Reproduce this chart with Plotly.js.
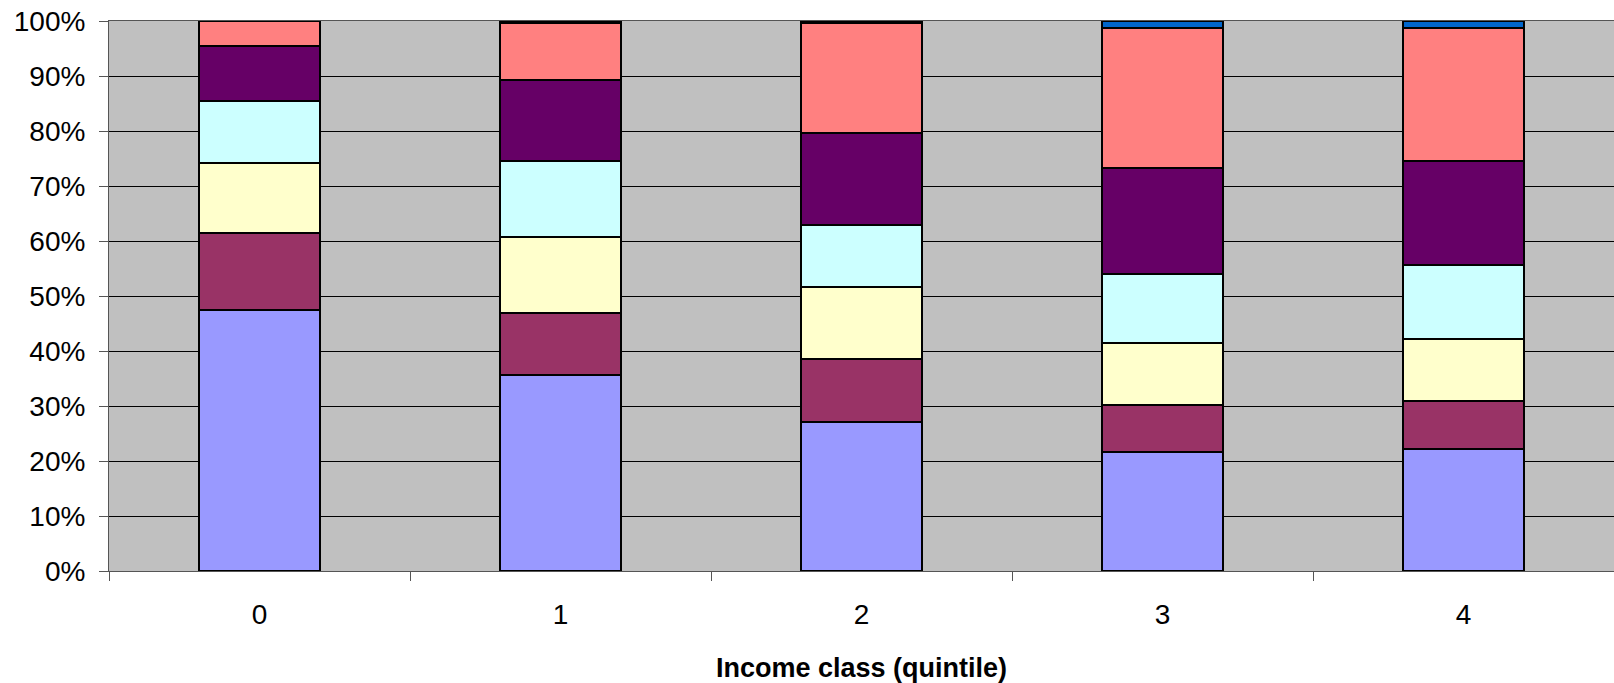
<!DOCTYPE html>
<html>
<head>
<meta charset="utf-8">
<script src="https://cdn.plot.ly/plotly-3.0.1.min.js"></script>
<style>
  html, body { margin: 0; padding: 0; background: #ffffff; }
  #chart { width: 1614px; height: 683px; }
</style>
</head>
<body>
<div id="chart"></div>
<script>
// Categories (income quintiles)
const categories = ['0', '1', '2', '3', '4'];

// Stacked shares (%) per series, bottom to top
const series1 = [47.4, 35.6, 27.1, 21.7, 22.2];
const series2 = [14.1, 11.3, 11.4, 8.4, 8.7];
const series3 = [12.7, 13.8, 13.1, 11.3, 11.3];
const series4 = [11.3, 13.9, 11.3, 12.6, 13.5];
const series5 = [10.0, 14.7, 16.8, 19.3, 18.9];
const series6 = [4.5, 10.4, 20.0, 25.5, 24.2];
const series7 = [0.0, 0.3, 0.3, 1.2, 1.2];

const seriesValues = [series1, series2, series3, series4, series5, series6, series7];
const seriesColors = ['#9999FF', '#993366', '#FFFFCC', '#CCFFFF', '#660066', '#FF8080', '#0066CC'];

const xTitle = 'Income class (quintile)';
const yTickVals = [0, 10, 20, 30, 40, 50, 60, 70, 80, 90, 100];

const traces = seriesValues.map((vals, i) => ({
  type: 'bar',
  x: categories,
  y: vals,
  marker: { color: seriesColors[i], line: { color: '#000000', width: 2 } },
  hoverinfo: 'skip'
}));

const family = '"Liberation Sans", Arial, sans-serif';
const tickFont = { family: family, size: 28, color: '#000000' };
const titleFont = { family: family, size: 27, color: '#000000' };

const layout = {
  width: 1614,
  height: 683,
  barmode: 'stack',
  bargap: 0.6,
  showlegend: false,
  paper_bgcolor: '#ffffff',
  plot_bgcolor: '#C0C0C0',
  font: tickFont,
  margin: { l: 109, r: 0, t: 21, b: 112, pad: 0 },
  xaxis: {
    type: 'category',
    tickson: 'boundaries',
    ticks: 'outside',
    ticklen: 9,
    tickwidth: 1,
    tickcolor: '#555555',
    showgrid: false,
    showline: true,
    linecolor: '#555555',
    linewidth: 1,
    mirror: true,
    ticklabelstandoff: 18,
    tickfont: tickFont,
    title: { text: '<b>' + xTitle + '</b>', font: titleFont, standoff: 30 }
  },
  yaxis: {
    range: [0, 100],
    tickvals: yTickVals,
    ticktext: yTickVals.map(v => v + '%'),
    ticks: 'outside',
    ticklen: 9,
    tickwidth: 1,
    tickcolor: '#555555',
    showgrid: true,
    gridcolor: '#000000',
    gridwidth: 1,
    showline: true,
    linecolor: '#555555',
    linewidth: 1,
    zeroline: false,
    ticklabelstandoff: 8,
    tickfont: tickFont
  }
};

Plotly.newPlot('chart', traces, layout, { displayModeBar: false, staticPlot: true });
</script>
</body>
</html>
